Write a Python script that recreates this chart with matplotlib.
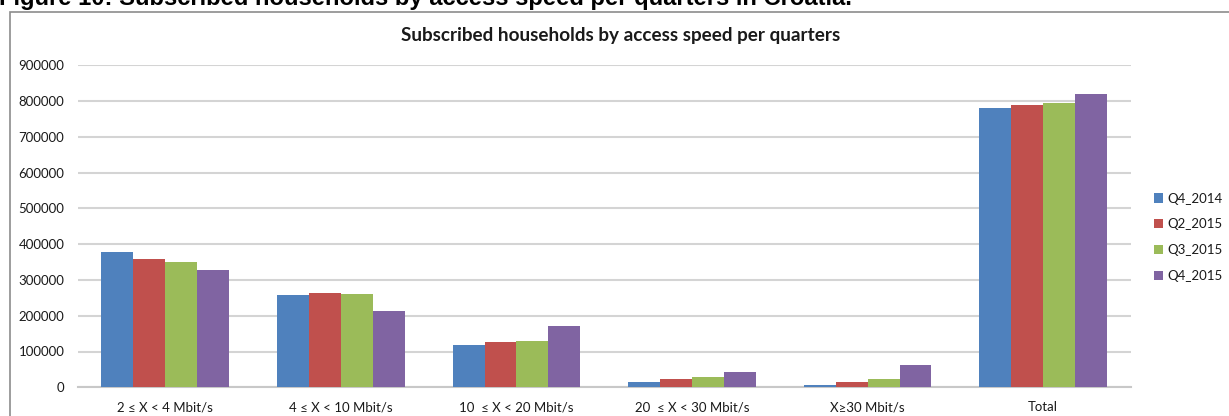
import matplotlib
matplotlib.use("Agg")
import matplotlib.pyplot as plt
import numpy as np
from matplotlib.patches import Rectangle

categories = ["2 \u2264 X < 4 Mbit/s", "4 \u2264 X < 10 Mbit/s", "10  \u2264 X < 20 Mbit/s",
              "20  \u2264 X < 30 Mbit/s", "X\u226530 Mbit/s", "Total"]
series_names = ["Q4_2014", "Q2_2015", "Q3_2015", "Q4_2015"]
q4_2014 = [378000, 259000, 117000, 15000, 7500, 779000]
q2_2015 = [357500, 263000, 126000, 22000, 15000, 789000]
q3_2015 = [350000, 261000, 128000, 28000, 22000, 793000]
q4_2015 = [327000, 212000, 172000, 42000, 63000, 818000]
yticks = [0, 100000, 200000, 300000, 400000, 500000, 600000, 700000, 800000, 900000]

colors = ["#4F81BD", "#C0504D", "#9BBB59", "#8064A2"]
series = [q4_2014, q2_2015, q3_2015, q4_2015]

W, H = 1229, 416
fig = plt.figure(figsize=(W / 100, H / 100), dpi=100)
fig.patch.set_facecolor("white")

# outer chart frame
fig.patches.append(Rectangle((9.5 / W, -0.05), 1.1, 1 - 11.5 / H + 0.05,
                             transform=fig.transFigure, fill=False,
                             edgecolor="#8C8C8C", linewidth=1.2))

# document caption above the frame (partly clipped at the top edge)
fig.text(-1 / W, 1 - 4.5 / H, "Figure 10: Subscribed households by access speed per quarters in Croatia.",
         fontfamily="Liberation Sans", fontweight="bold", fontsize=17.1,
         ha="left", va="baseline", color="black")

left, right = 77.5 / W, 1131 / W
bottom, top = 1 - 387.3 / H, 1 - 65.1 / H
ax = fig.add_axes([left, bottom, right - left, top - bottom])

x = np.arange(len(categories))
n = len(series)
bw = 1 / (n + 1.5)
for i, (vals, c, name) in enumerate(zip(series, colors, series_names)):
    ax.bar(x + (i - (n - 1) / 2) * bw, vals, width=bw, color=c, label=name,
           zorder=3, linewidth=0)

ax.set_xlim(-0.5, len(categories) - 0.5)
ax.set_ylim(0, 900000)
ax.set_yticks(yticks)
ax.set_yticklabels([str(v) for v in yticks], fontfamily="Lato", fontsize=9.5, color="#1a1a1a")
ax.set_xticks(x)
ax.set_xticklabels(categories, fontfamily="Lato", fontsize=9.5, color="#1a1a1a")
ax.tick_params(axis="both", length=0)
ax.tick_params(axis="y", pad=9.5)
ax.tick_params(axis="x", pad=10)
ax.grid(axis="y", color="#D4D4D4", linewidth=1.5, zorder=0)
for s in ["left", "right", "top"]:
    ax.spines[s].set_visible(False)
ax.spines["bottom"].set_color("#C8C8C8")
ax.spines["bottom"].set_linewidth(1.5)

fig.text(621 / W, 1 - 36 / H, "Subscribed households by access speed per quarters",
         fontfamily="Lato", fontweight="bold", fontsize=13.6, ha="center", va="center",
         color="#1a1a1a")

leg = fig.legend(loc="upper left", bbox_to_anchor=(1147 / W, 1 - 186 / H),
                 frameon=False, prop={"family": "Lato", "size": 9.5},
                 handlelength=0.7, handleheight=0.7, handletextpad=0.35,
                 labelspacing=1.05, borderpad=0)
for t in leg.get_texts():
    t.set_color("#1a1a1a")

fig.savefig("out.png", dpi=100, facecolor="white")
